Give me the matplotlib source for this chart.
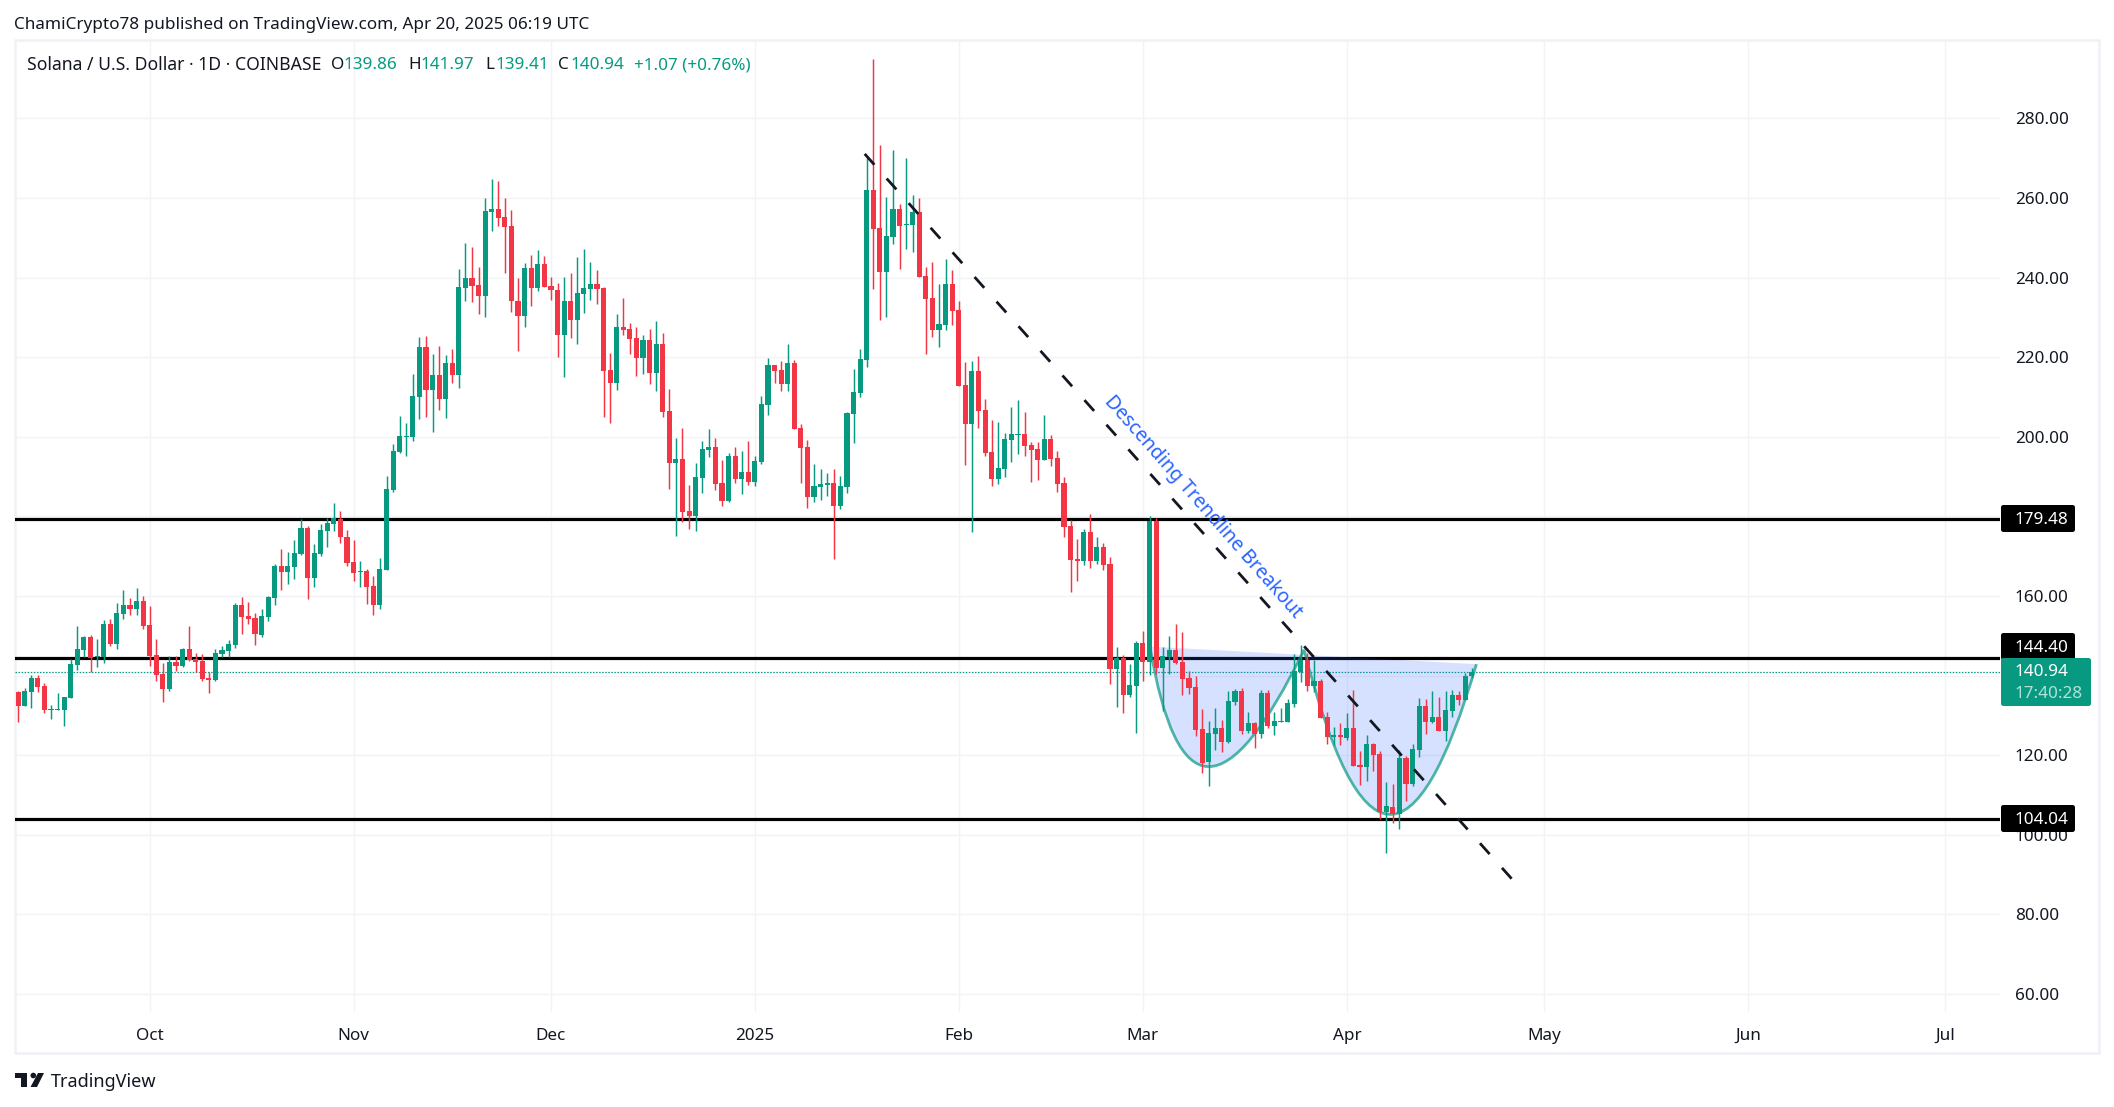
import numpy as np
import matplotlib
matplotlib.use("Agg")
import matplotlib.pyplot as plt
from matplotlib.path import Path
from matplotlib.patches import PathPatch, FancyBboxPatch, Rectangle, Circle, Polygon
from matplotlib.transforms import Affine2D

plt.rcParams['font.family'] = ['Noto Sans', 'DejaVu Sans']
plt.rcParams['lines.scale_dashes'] = False

W, H = 2114, 1107
INK, UP, DOWN, GRID = '#131722', '#089981', '#f23645', '#f2f3f6'

first_day = -20  # days relative to 1 Oct 2024

opens = [
 135.9,132.4,135.9,139.4,137.4,131.4,131.4,131.4,134.4,142.7,
 146.5,149.7,144.7,144.7,153.0,148.0,155.5,157.8,156.8,158.8,
 152.7,145.2,140.4,136.7,143.4,142.4,146.7,144.2,143.7,139.4,
 138.9,145.4,146.2,147.7,157.8,155.0,154.5,150.2,154.7,159.5,
 167.6,166.1,167.3,170.6,177.1,164.5,170.6,176.3,178.1,179.4,
 174.9,168.6,166.1,166.3,162.5,157.8,166.6,186.7,196.2,200.0,
 200.0,210.0,222.6,211.8,215.6,209.5,218.6,215.6,237.4,239.9,
 238.2,235.4,256.5,257.3,255.2,253.0,234.1,230.4,242.4,237.4,
 243.4,237.9,236.9,225.6,234.1,229.4,235.9,237.2,238.4,237.4,
 216.8,213.5,227.6,227.1,224.8,219.8,224.3,216.1,223.3,206.5,
 193.4,194.4,181.4,180.1,189.7,196.7,197.5,188.4,183.9,195.2,
 189.4,191.2,188.7,193.7,208.0,218.1,216.8,213.3,218.6,202.2,
 197.5,184.9,187.4,187.9,188.4,182.6,187.4,205.8,211.0,219.3,
 262.0,252.4,241.4,250.2,257.2,253.2,253.2,256.5,240.4,234.9,
 226.8,228.1,238.4,231.9,213.0,203.2,216.5,206.8,196.2,189.4,
 191.9,199.2,200.5,200.7,198.0,196.9,194.2,199.5,194.7,188.4,
 177.6,169.3,168.8,176.1,168.8,172.3,168.0,141.7,144.4,135.2,
 137.4,148.2,143.4,178.9,142.0,144.7,146.5,143.4,139.4,137.2,
 126.6,118.3,125.4,126.9,123.3,133.4,136.2,126.1,128.1,125.4,
 135.7,127.4,128.4,128.4,132.9,140.9,144.0,137.4,138.7,129.6,
 124.6,125.1,124.3,126.9,117.6,117.1,122.8,120.3,105.8,107.0,
 105.3,119.3,112.8,121.3,132.4,128.4,129.6,126.1,131.1,135.2,
 133.9,139.86]
highs = [
 136.2,136.9,140.2,140.2,138.2,132.6,135.7,134.6,144.1,152.5,
 150.0,150.2,149.2,154.0,154.2,158.3,161.5,159.5,162.0,160.0,
 157.5,149.2,143.2,144.9,144.9,147.0,152.5,145.7,145.4,140.9,
 146.7,147.5,149.0,158.3,159.8,158.5,155.8,156.8,160.0,168.1,
 171.8,171.1,174.1,179.4,177.6,173.1,178.1,179.6,183.4,181.4,
 176.6,174.1,168.8,166.8,165.0,169.6,190.2,198.2,205.2,203.5,
 215.8,225.1,225.3,220.8,222.8,220.6,222.1,242.2,248.7,247.7,
 242.7,260.0,264.8,264.3,260.0,257.0,239.9,243.7,245.7,246.9,
 245.4,240.2,238.7,240.2,241.2,245.2,247.2,243.9,241.9,237.7,
 221.1,230.9,234.9,228.6,227.6,225.6,227.1,229.1,226.1,212.0,
 199.7,202.2,187.9,193.4,199.0,202.0,199.7,194.2,196.0,197.5,
 196.4,199.0,195.2,210.3,219.8,218.1,219.1,223.3,219.3,203.2,
 199.2,193.2,191.9,190.9,191.9,190.2,206.2,217.1,222.1,270.0,
 295.0,273.3,260.3,272.1,258.5,270.0,260.8,260.0,242.7,243.9,
 238.4,244.7,241.9,234.1,218.8,219.0,220.3,209.5,204.2,203.7,
 201.0,207.5,209.3,206.2,198.7,198.7,205.5,200.5,196.4,189.9,
 179.1,174.4,176.9,180.6,174.9,173.4,169.8,147.2,145.2,142.9,
 148.7,151.2,180.1,179.6,147.2,150.0,153.0,151.0,141.2,139.9,
 131.6,128.6,131.9,128.9,136.2,136.7,136.9,130.9,128.4,136.4,
 136.4,130.9,131.9,134.1,145.4,147.7,145.7,144.0,139.2,130.9,
 127.1,128.1,130.6,136.4,121.1,125.1,123.1,121.0,113.3,112.8,
 121.3,119.8,122.8,134.4,134.1,136.2,134.6,136.2,136.4,136.2,
 140.7,141.97]
lows = [
 128.4,132.4,131.9,135.9,130.6,129.1,131.4,127.4,134.4,141.4,
 144.7,140.9,142.2,143.2,147.5,146.7,154.2,155.3,155.3,151.7,
 142.4,138.7,133.4,136.2,141.2,142.2,143.7,140.9,138.7,135.7,
 138.7,144.7,144.7,147.0,150.5,153.0,147.7,149.7,153.7,157.8,
 161.5,163.0,164.3,170.3,159.3,162.3,170.1,172.3,176.3,173.3,
 167.6,163.8,162.3,158.0,155.3,156.8,166.6,186.2,196.0,195.2,
 199.0,204.5,205.0,201.2,206.8,204.7,213.5,212.3,234.1,233.9,
 230.9,230.1,251.7,253.0,241.2,231.4,221.6,227.6,232.9,236.7,
 237.7,234.4,220.1,215.1,224.8,223.3,231.1,234.4,233.4,205.0,
 203.5,211.8,225.6,220.8,215.3,215.8,213.3,211.5,205.0,186.9,
 175.1,178.6,176.9,176.4,185.9,195.0,186.7,182.6,183.6,188.4,
 185.6,187.9,187.7,193.2,205.5,213.5,211.5,211.5,202.0,188.4,
 182.1,183.6,184.1,185.2,169.3,181.9,185.9,198.5,210.0,217.6,
 237.2,229.4,230.1,248.5,242.2,247.2,246.4,240.2,220.8,225.1,
 222.6,226.8,228.1,212.8,193.0,176.1,202.2,195.2,187.7,188.2,
 189.9,193.7,195.7,195.2,188.7,189.2,194.2,192.7,186.2,174.8,
 161.0,163.8,167.8,167.1,168.1,166.6,137.9,132.1,130.6,134.6,
 125.6,138.7,140.2,140.4,131.1,140.4,142.9,135.2,135.4,124.8,
 115.6,112.3,121.3,120.8,123.1,132.6,125.4,125.6,121.8,124.3,
 126.9,125.1,128.4,128.4,132.1,138.4,136.2,135.9,129.4,122.8,
 122.6,122.6,123.8,117.3,112.5,113.6,116.1,104.0,95.5,103.0,
 101.5,108.5,112.3,119.6,125.4,128.1,126.1,123.6,129.6,132.6,
 133.9,139.41]
closes = [
 132.4,136.2,139.4,137.2,131.4,131.6,131.6,134.6,142.9,146.7,
 149.7,144.4,144.9,153.0,148.0,155.8,157.8,156.8,158.8,152.5,
 144.9,140.2,136.7,143.4,142.4,146.7,143.9,143.4,139.2,138.9,
 145.7,146.5,148.0,157.8,154.7,154.2,150.5,155.0,159.8,167.6,
 166.1,167.6,170.8,177.1,164.5,170.8,176.6,178.4,179.6,174.9,
 168.3,165.8,166.3,162.3,157.8,166.8,186.9,196.5,200.2,200.2,
 210.3,222.6,211.8,215.6,209.5,218.6,215.6,237.7,239.9,237.9,
 235.4,256.8,257.3,255.0,252.7,234.1,230.4,242.4,237.4,243.4,
 237.7,236.9,225.6,234.1,229.4,236.2,237.4,238.4,237.2,216.6,
 213.5,227.6,226.9,224.6,219.8,224.3,216.1,223.3,206.3,193.4,
 194.4,181.1,180.1,189.9,197.0,197.5,188.2,183.9,195.2,189.4,
 191.2,188.7,193.9,208.3,218.1,216.6,213.3,218.6,202.0,197.2,
 184.9,187.7,188.2,188.4,182.6,187.7,206.0,211.3,219.6,262.0,
 252.2,241.4,250.5,257.2,253.0,253.5,256.5,240.2,234.6,226.8,
 228.4,238.4,231.6,212.8,203.2,216.5,206.5,196.0,189.4,192.2,
 199.5,200.7,200.7,197.7,196.7,194.2,199.5,194.4,188.2,177.4,
 169.1,168.8,176.1,168.8,172.3,167.8,141.7,144.4,135.2,137.7,
 148.2,143.4,178.9,142.0,144.9,146.5,143.2,139.2,136.9,126.4,
 118.0,125.6,126.9,123.3,133.6,136.2,126.1,128.1,125.4,135.7,
 127.4,128.6,128.6,133.1,141.2,144.0,137.4,138.7,129.4,124.6,
 125.1,124.6,126.9,117.3,117.1,122.8,120.1,105.8,107.3,105.3,
 119.3,112.8,121.6,132.4,128.4,129.6,126.1,131.4,135.2,133.9,
 139.9,140.94]

levels = [179.48, 144.40, 104.04]
last_close = 140.94
y_ticks = list(range(60, 300, 20))
month_days = [0, 31, 61, 92, 123, 151, 182, 212, 243, 273]
month_labels = ['Oct', 'Nov', 'Dec', '2025', 'Feb', 'Mar', 'Apr', 'May', 'Jun', 'Jul']
trend_days = [108.7, 207.1]
trend_prices = [271.1, 88.9]
cup_days = [152.07, 158.1, 175.5, 188.0, 201.7]
cup_prices = [147.3, 87.4, 146.5, 65.6, 142.9]

fig = plt.figure(figsize=(W / 100, H / 100), dpi=100, facecolor='white')
px = Affine2D().scale(1 / W, -1 / H).translate(0, 1) + fig.transFigure

ax = fig.add_axes([15 / W, 1 - 1012 / H, (2000 - 15) / W, (1012 - 41) / H])
ax.set_facecolor('none')
ax.set_xlim(-20.48, 281.3)
ax.set_ylim(55.5, 299.47)
for s in ax.spines.values():
    s.set_visible(False)

ax.set_axisbelow(True)
ax.grid(True, color=GRID, lw=1.0)
ax.set_yticks(y_ticks)
ax.set_yticklabels([f'{v:.2f}' for v in y_ticks])
ax.yaxis.tick_right()
ax.tick_params(axis='y', length=0, pad=10.6, labelsize=12.3, labelcolor=INK)
ax.set_xticks(month_days)
ax.set_xticklabels(month_labels)
ax.tick_params(axis='x', length=0, pad=11.7, labelsize=12.3, labelcolor=INK)
ax.get_xticklabels()[3].set_fontweight('bold')

o, h, l, c = map(np.array, (opens, highs, lows, closes))
days = first_day + np.arange(len(o))
cols = np.where(c >= o, UP, DOWN)

ax.axhline(last_close, color=UP, lw=0.9, ls=(0, (1.1, 1.1)), zorder=1)
for lv in levels:
    ax.axhline(lv, color='black', lw=2.3, zorder=2)

verts = list(zip(cup_days, cup_prices))
fill = Path(verts + [verts[0]],
            [Path.MOVETO, Path.CURVE3, Path.CURVE3, Path.CURVE3, Path.CURVE3, Path.CLOSEPOLY])
ax.add_patch(PathPatch(fill, facecolor='#2962ff', alpha=0.19, edgecolor='none', zorder=3))
curve = Path(verts, [Path.MOVETO, Path.CURVE3, Path.CURVE3, Path.CURVE3, Path.CURVE3])
ax.add_patch(PathPatch(curve, facecolor='none', edgecolor=UP, alpha=0.7, lw=2.0, zorder=4))

wicks = ax.vlines(days, l, h, colors=cols, lw=1.05, zorder=5)
wicks.set_snap(True)
ax.bar(days, np.abs(c - o), bottom=np.minimum(o, c), width=0.78, color=cols, zorder=6, linewidth=0)

ax.plot(trend_days, trend_prices, color=INK, lw=2.0, ls=(0, (10.44, 13.32)),
        dash_capstyle='butt', zorder=7)
ax.text(160.1, 182.4, 'Descending Trendline Breakout', color='#2962ff', fontsize=14,
        rotation=-48.7, rotation_mode='anchor', ha='center', va='center', zorder=8)

# frame around pane and axes
fig.add_artist(Rectangle((15, 40), 2084, 1013, transform=px, fill=False, ec='#eff1f5', lw=1.8, zorder=-1))

def label_box(x0, y0, x1, y1, color):
    fig.add_artist(FancyBboxPatch((x0, y0), x1 - x0, y1 - y0, boxstyle='round,pad=0,rounding_size=2.5',
                                  transform=px, fc=color, ec='none', zorder=2))

def t(x, y, s, color=INK, size=12.3, **kw):
    fig.text(x, y, s, transform=px, color=color, fontsize=size, va='center', zorder=3, **kw)

for lv, y0, y1 in zip(levels, (505, 633, 805), (532, 660, 832)):
    label_box(2001, y0, 2075, y1, 'black')
    t(2014.5, (y0 + y1) / 2 + 1.5, f'{lv:.2f}', color='white')
label_box(2001, 658, 2091, 706, UP)
t(2014.5, 672.5, f'{last_close:.2f}', color='white')
t(2014.5, 694, '17:40:28', color='#b5e0d9')

t(14, 25, 'ChamiCrypto78 published on TradingView.com, Apr 20, 2025 06:19 UTC')
t(27, 65, 'Solana / U.S. Dollar · 1D · COINBASE', size=12.65)
for xl, lab, xv, val in [(331, 'O', 343, '139.86'), (408, 'H', 420, '141.97'),
                         (485, 'L', 495, '139.41'), (558, 'C', 570, '140.94')]:
    t(xl, 65, lab)
    t(xv, 65, val, color=UP)
t(634, 65, '+1.07 (+0.76%)', color=UP)

# TradingView logo and word mark
fig.add_artist(Polygon([(15, 1073), (27, 1073), (27, 1087), (21, 1087), (21, 1078), (15, 1078)],
                       transform=px, fc=INK, ec='none'))
fig.add_artist(Circle((33.3, 1075.5), 2.8, transform=px, fc=INK, ec='none'))
fig.add_artist(Polygon([(38, 1073), (44, 1073), (37, 1087), (30.5, 1087)], transform=px, fc=INK, ec='none'))
t(51, 1082, 'TradingView', size=13)

fig.savefig('out.png', dpi=100)
